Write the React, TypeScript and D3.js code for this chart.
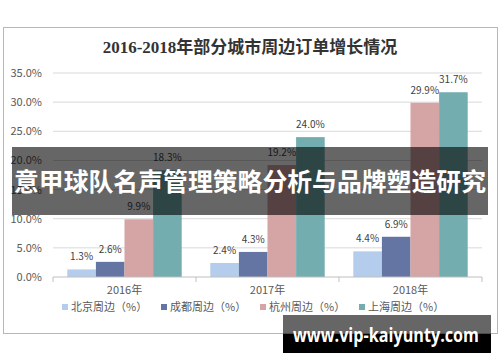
import React from 'react';
import * as d3 from 'd3';

const years = ['2016年', '2017年', '2018年'];
const seriesNames = ['北京周边（%）', '成都周边（%）', '杭州周边（%）', '上海周边（%）'];
const beijing = [1.3, 2.4, 4.4];
const chengdu = [2.6, 4.3, 6.9];
const hangzhou = [9.9, 19.2, 29.9];
const shanghai = [18.3, 24.0, 31.7];
const yTicks = [0, 5, 10, 15, 20, 25, 30, 35];

const colors = ['#b5cdec', '#6474a3', '#d5a4a4', '#73adb0'];
const seriesValues = [beijing, chengdu, hangzhou, shanghai];

export default function App() {
  const width = 500;
  const height = 362;
  const margin = { top: 73, right: 18, bottom: 85, left: 53 };

  const x = d3.scaleBand<string>()
    .domain(years)
    .range([margin.left, width - margin.right])
    .padding(0);

  const x1 = d3.scaleBand<number>()
    .domain(d3.range(seriesNames.length))
    .range([0, x.bandwidth()])
    .paddingInner(0)
    .paddingOuter(0.5);

  const y = d3.scaleLinear()
    .domain([0, 35])
    .range([height - margin.bottom, margin.top]);

  const textColor = '#595959';
  const sans = '"Noto Sans CJK SC", "DejaVu Sans", sans-serif';

  // legend positions
  const legendX = d3.scaleLinear().domain([0, 1]).range([65, 164]);

  return (
    <svg width={width} height={height} style={{ position: 'absolute', left: 0, top: 0 }}>
      <rect x={0} y={0} width={width} height={height} fill="#fff" />
      {/* chart border */}
      <rect x={3.5} y={27.5} width={494} height={306} fill="#fff" stroke="#b8b8b8" />

      <text x={250} y={53} textAnchor="middle" fontSize={17} fontWeight="bold"
        fontFamily='"Liberation Serif", "Noto Sans CJK SC", serif' fill="#333">
        2016-2018年部分城市周边订单增长情况
      </text>

      {/* grid + y labels */}
      {yTicks.map(t => (
        <g key={t}>
          {t > 0 && (
            <line x1={margin.left} x2={width - margin.right} y1={y(t)} y2={y(t)}
              stroke="#d9d9d9" strokeWidth={1} />
          )}
          <text x={42} y={y(t) + 4} textAnchor="end" fontSize={11} fontFamily={sans} fill={textColor}>
            {t.toFixed(1)}%
          </text>
        </g>
      ))}

      {/* bars */}
      {years.map((yr, i) => (
        <g key={yr} transform={`translate(${x(yr)},0)`}>
          {seriesValues.map((vals, s) => (
            <g key={s}>
              <rect x={x1(s)} y={y(vals[i])} width={x1.bandwidth()}
                height={y(0) - y(vals[i])} fill={colors[s]} />
              <text x={(x1(s) as number) + x1.bandwidth() / 2} y={y(vals[i]) - 9}
                textAnchor="middle" fontSize={10} fontFamily={sans} fill="#404040">
                {vals[i].toFixed(1)}%
              </text>
            </g>
          ))}
        </g>
      ))}

      {/* x axis */}
      <line x1={margin.left} x2={width - margin.right} y1={y(0)} y2={y(0)} stroke="#bfbfbf" />
      {[...years.map(yr => x(yr) as number), width - margin.right].map((px, i) => (
        <line key={i} x1={px} x2={px} y1={y(0)} y2={y(0) + 5} stroke="#bfbfbf" />
      ))}
      {years.map(yr => (
        <text key={yr} x={(x(yr) as number) + x.bandwidth() / 2} y={y(0) + 17}
          textAnchor="middle" fontSize={11} fontFamily={sans} fill={textColor}>
          {yr}
        </text>
      ))}

      {/* legend */}
      {seriesNames.map((name, s) => (
        <g key={name} transform={`translate(${legendX(s)},307)`}>
          <rect x={-3} y={-3} width={6} height={6} fill={colors[s]} />
          <text x={6} y={4} fontSize={11} fontFamily={sans} fill={textColor}>{name}</text>
        </g>
      ))}

      {/* overlay banner */}
      <rect x={12} y={147} width={476} height={68} fill="rgba(0,0,0,0.6)" />
      <text x={250} y={191} textAnchor="middle" fontSize={25} fontWeight="bold"
        fontFamily={sans} fill="#fff" textLength={472} lengthAdjust="spacingAndGlyphs">
        意甲球队名声管理策略分析与品牌塑造研究
      </text>

      {/* watermark */}
      <rect x={283} y={315} width={208} height={19} fill="rgba(0,0,0,0.6)" />
      <rect x={283} y={334} width={208} height={19} fill="#000" />
      <text x={293} y={342} fontSize={20} fontWeight="bold" fontFamily='"Open Sans", "DejaVu Sans", sans-serif'
        fill="#fff" textLength={186} lengthAdjust="spacingAndGlyphs">
        www.vip-kaiyunty.com
      </text>
    </svg>
  );
}
